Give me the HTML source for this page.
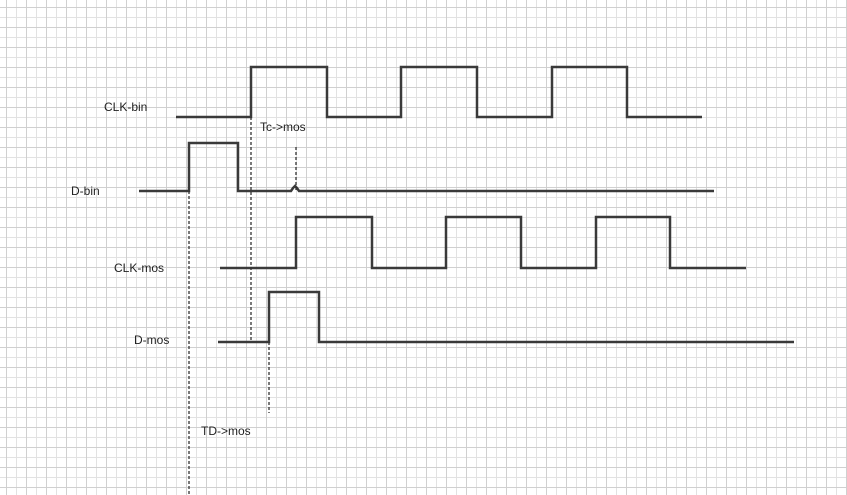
<!DOCTYPE html>
<html><head><style>
html,body{margin:0;padding:0;background:#fff;}
svg{display:block}
text{font-family:"Liberation Sans",sans-serif;font-size:12px;fill:#222}
</style></head><body>
<svg width="847" height="495" viewBox="0 0 847 495">
<defs>
<pattern id="g" x="6" y="7" width="10" height="10" patternUnits="userSpaceOnUse">
<path d="M0.5 0V10M0 0.5H10" stroke="#e2e2e2" stroke-width="1" fill="none"/>
</pattern>
<pattern id="G" x="6" y="7" width="20" height="20" patternUnits="userSpaceOnUse">
<path d="M0.5 0V20M0 0.5H20" stroke="#d0d0d0" stroke-width="1" fill="none"/>
</pattern>
</defs>
<rect width="847" height="495" fill="url(#g)"/>
<rect width="847" height="495" fill="url(#G)"/>
<g fill="none" stroke="#3a3a3a" stroke-width="2.5">
<polyline points="176,117 251,117 251,67 327,67 327,117 401,117 401,67 477,67 477,117 552,117 552,67 627,67 627,117 702,117"/>
<polyline points="139,191 189,191 189,143 238,143 238,191 291,191 293,188 295,186 297,188 299,191 714,191"/>
<polyline points="220,268 296,268 296,217 372,217 372,268 446,268 446,217 521,217 521,268 596,268 596,217 670,217 670,268 746,268"/>
<polyline points="218,342 269,342 269,292 319,292 319,342 794,342"/>
</g>
<g stroke="#333" stroke-width="1.3" stroke-dasharray="3,2" fill="none">
<line x1="189" y1="191" x2="189" y2="495"/>
<line x1="251" y1="117" x2="251" y2="342"/>
<line x1="296" y1="147" x2="296" y2="191"/>
<line x1="269" y1="342" x2="269" y2="413"/>
</g>
<text x="104" y="111">CLK-bin</text>
<text x="260" y="131">Tc-&gt;mos</text>
<text x="71" y="195">D-bin</text>
<text x="114" y="272">CLK-mos</text>
<text x="134" y="344">D-mos</text>
<text x="201" y="435">TD-&gt;mos</text>
</svg>
</body></html>
